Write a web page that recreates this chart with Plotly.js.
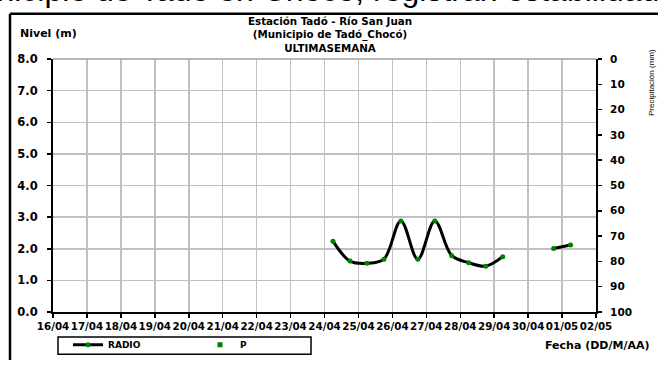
<!DOCTYPE html>
<html>
<head>
<meta charset="utf-8">
<script src="https://cdn.plot.ly/plotly-3.0.1.min.js"></script>
<style>html,body{margin:0;padding:0;background:#fff;}#chart{width:658px;height:371px;}</style>
</head>
<body>
<div id="chart"></div>
<script>
// Data
const fechas = ['2024-04-24 06:00','2024-04-24 18:00','2024-04-25 06:00','2024-04-25 18:00',
  '2024-04-26 06:00','2024-04-26 18:00','2024-04-27 06:00','2024-04-27 18:00',
  '2024-04-28 06:00','2024-04-28 18:00','2024-04-29 06:00','2024-04-29 18:00',
  '2024-04-30 06:00','2024-04-30 18:00','2024-05-01 06:00'];
const nivelRadio = [2.24,1.61,1.54,1.67,2.88,1.67,2.88,1.78,1.56,1.45,1.75,null,null,2.01,2.12];
const precipitacion = [null,null,null,null,null,null,null,null,null,null,null,null,null,null,null];
const nivelTicks = [0,1,2,3,4,5,6,7,8];
const nivelTickText = ['0.0','1.0','2.0','3.0','4.0','5.0','6.0','7.0','8.0'];
const precTicks = [0,10,20,30,40,50,60,70,80,90,100];
const tituloLineas = ['Estación Tadó - Río San Juan', '(Municipio de Tadó_Chocó)', 'ULTIMASEMANA'];

const L = 53, R = 596, T = 59, B = 322;
const W = 658, H = 371;
const px = x => (x - L) / (R - L);
const py = y => (B - y) / (B - T);

const dv = (s) => ({family: 'DejaVu Sans', size: s, color: '#000', weight: 'bold'});

const traces = [
  {
    x: fechas, y: nivelRadio, name: 'RADIO', type: 'scatter', mode: 'lines+markers',
    line: {color: '#000', width: 3, shape: 'spline', smoothing: 1},
    marker: {color: '#008000', size: 5, symbol: 'circle'},
    connectgaps: false, yaxis: 'y', cliponaxis: false
  },
  {
    x: fechas, y: precipitacion, name: 'P', type: 'scatter', mode: 'markers',
    marker: {color: '#008000', size: 5, symbol: 'square'},
    yaxis: 'y2'
  }
];

const layout = {
  width: W, height: H,
  margin: {l: L, r: W - R, t: T, b: H - B},
  paper_bgcolor: '#fff', plot_bgcolor: '#fff',
  showlegend: true,
  legend: {
    orientation: 'h', x: px(68), xanchor: 'left', y: py(356), yanchor: 'middle',
    font: dv(9), bgcolor: 'rgba(0,0,0,0)', borderwidth: 0,
    entrywidth: 87, entrywidthmode: 'pixels'
  },
  xaxis: {
    type: 'date', range: ['2024-04-16', '2024-05-02'],
    tickmode: 'linear', tick0: '2024-04-16', dtick: 86400000, tickformat: '%d/%m',
    tickangle: 0,
    showgrid: true, gridcolor: '#c0c0c0', gridwidth: 1.5,
    showline: true, linecolor: '#000', linewidth: 2,
    ticks: 'outside', ticklen: 4, tickwidth: 1.5, tickcolor: '#000',
    tickfont: dv(10.3), zeroline: false, fixedrange: true
  },
  yaxis: {
    range: [0, 8], tickvals: nivelTicks, ticktext: nivelTickText,
    showgrid: true, gridcolor: '#c0c0c0', gridwidth: 1.5,
    showline: true, linecolor: '#000', linewidth: 2,
    ticks: 'outside', ticklen: 4, tickwidth: 1.5, tickcolor: '#000',
    ticklabelstandoff: 7,
    tickfont: dv(11.5), zeroline: false, fixedrange: true
  },
  yaxis2: {
    range: [100, 0], tickvals: precTicks, overlaying: 'y', side: 'right',
    showgrid: false, showline: true, linecolor: '#000', linewidth: 2,
    ticks: 'outside', ticklen: 4, tickwidth: 1.5, tickcolor: '#000',
    ticklabelstandoff: 6,
    tickfont: dv(10.5), zeroline: false, fixedrange: true
  },
  shapes: [
    {type: 'line', xref: 'paper', yref: 'paper', x0: px(10), x1: px(660), y0: py(12), y1: py(12), line: {color: '#000', width: 2.5}},
    {type: 'line', xref: 'paper', yref: 'paper', x0: px(10), x1: px(10), y0: py(12), y1: py(372), line: {color: '#000', width: 2.5}},
    {type: 'line', xref: 'paper', yref: 'paper', x0: 0, x1: 1, y0: 1, y1: 1, line: {color: '#a0a0a0', width: 1.5}},
    {type: 'rect', xref: 'paper', yref: 'paper', x0: px(58), x1: px(311), y0: py(348), y1: py(366), line: {color: '#000', width: 1.5}}
  ],
  annotations: [
    {text: 'Municipio de Tadó en Chocó, registran estabilidad', xref: 'paper', yref: 'paper',
     x: px(-50), xanchor: 'left', y: py(8), yanchor: 'bottom', showarrow: false,
     font: {family: 'Liberation Sans, Arial', size: 32, color: '#000'}},
    {text: tituloLineas.join('<br>'), xref: 'paper', yref: 'paper', x: px(330), xanchor: 'center',
     y: py(34), yanchor: 'middle', showarrow: false, align: 'center', font: dv(10.3)},
    {text: 'Nivel (m)', xref: 'paper', yref: 'paper', x: px(18), xanchor: 'left', y: py(32), yanchor: 'middle',
     showarrow: false, font: dv(11)},
    {text: 'Fecha (DD/M/AA)', xref: 'paper', yref: 'paper', x: px(651), xanchor: 'right', y: py(357), yanchor: 'middle',
     showarrow: false, font: dv(11)},
    {text: 'Precipitación (mm)', xref: 'paper', yref: 'paper', x: px(651), xanchor: 'center', y: py(84), yanchor: 'middle',
     textangle: -90, showarrow: false, font: {family: 'Liberation Sans, Arial', size: 8, color: '#000'}}
  ]
};

Plotly.newPlot('chart', traces, layout, {displayModeBar: false, staticPlot: true});
</script>
</body>
</html>
